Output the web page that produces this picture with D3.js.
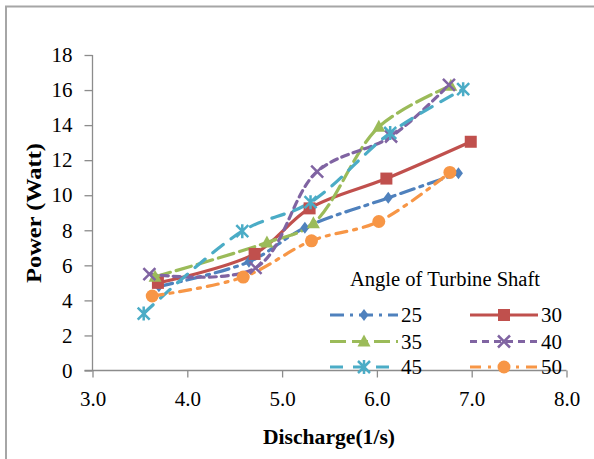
<!DOCTYPE html>
<html><head><meta charset="utf-8">
<script src="https://d3js.org/d3.v7.min.js"></script>
<style>body{margin:0;background:#fff}svg{display:block}
text{font-family:"Liberation Serif","Tinos","Noto Serif","DejaVu Serif","Times New Roman",Times,serif;}
</style>
</head><body>
<script>
const seriesNames = ["25","30","35","40","45","50"];
const discharge25 = [3.70,4.65,5.24,6.12,6.86];
const power25     = [4.80,6.20,8.15,9.85,11.25];
const discharge30 = [3.69,4.71,5.29,6.10,6.99];
const power30     = [5.00,6.65,9.25,10.95,13.05];
const discharge35 = [3.66,4.84,5.33,6.02,6.78];
const power35     = [5.35,7.30,8.40,13.90,16.25];
const discharge40 = [3.60,4.72,5.37,6.15,6.76];
const power40     = [5.50,5.85,11.35,13.35,16.30];
const discharge45 = [3.54,4.58,5.30,6.14,6.91];
const power45     = [3.25,7.95,9.60,13.55,16.05];
const discharge50 = [3.63,4.59,5.31,6.02,6.77];
const power50     = [4.25,5.33,7.40,8.50,11.30];
const xTicks = [3,4,5,6,7,8];
const yTicks = [0,2,4,6,8,10,12,14,16,18];
const legendTitle = "Angle of Turbine Shaft";

const colors = ["#4F81BD","#C0504D","#9BBB59","#8064A2","#4BACC6","#F79646"];
const dashes = ["14,6,3,6", null, "16,6", "7,5", "13,10", "11,7,3,7"];
const markers = ["diamond","square","triangle","x","asterisk","circle"];
const xs = [discharge25,discharge30,discharge35,discharge40,discharge45,discharge50];
const ys = [power25,power30,power35,power40,power45,power50];
const series = seriesNames.map((n,i)=>({name:n,color:colors[i],dash:dashes[i],marker:markers[i],
  pts:xs[i].map((x,j)=>({x:x,y:ys[i][j]}))}));

const W=594,H=459;
const svg=d3.select("body").append("svg").attr("width",W).attr("height",H);
svg.append("path").attr("d","M6,459V6.5H594").attr("fill","none").attr("stroke","#a6a6a6").attr("stroke-width",2);

const x=d3.scaleLinear().domain([3,8]).range([92.5,566.5]);
const y=d3.scaleLinear().domain([0,18]).range([370.5,55]);

const xa=svg.append("g").attr("transform","translate(0,370.5)")
  .call(d3.axisBottom(x).tickValues(xTicks).tickFormat(d3.format(".1f")).tickSize(7).tickPadding(14));
const ya=svg.append("g").attr("transform","translate(92.5,0)")
  .call(d3.axisLeft(y).tickValues(yTicks).tickSize(8).tickPadding(12));
[xa,ya].forEach(a=>{
  a.attr("font-family",null);
  a.select(".domain").attr("stroke","#8c8c8c").attr("stroke-width",1.3);
  a.selectAll(".tick line").attr("stroke","#8c8c8c").attr("stroke-width",1.3);
  a.selectAll("text").attr("font-size",21).attr("fill","#000");
});
ya.select(".domain").attr("d","M0,55V370.5");
xa.select(".domain").attr("d","M84.5,0H566.5");

svg.append("text").attr("x",329).attr("y",444).attr("text-anchor","middle")
  .attr("font-weight","bold").attr("font-size",20).attr("textLength",132).attr("lengthAdjust","spacingAndGlyphs")
  .text("Discharge(1/s)");
svg.append("text").attr("transform","translate(41,213) rotate(-90)").attr("text-anchor","middle")
  .attr("font-weight","bold").attr("font-size",21).attr("textLength",140).attr("lengthAdjust","spacingAndGlyphs")
  .text("Power (Watt)");

function drawMarker(g,type,cx,cy,color){
  const s=6;
  if(type==="diamond"){
    g.append("path").attr("d",`M${cx},${cy-6}L${cx+4.5},${cy}L${cx},${cy+6}L${cx-4.5},${cy}Z`).attr("fill",color);
  } else if(type==="square"){
    g.append("rect").attr("x",cx-6).attr("y",cy-6).attr("width",12).attr("height",12).attr("fill",color);
  } else if(type==="triangle"){
    g.append("path").attr("d",`M${cx},${cy-7}L${cx+6.5},${cy+5}L${cx-6.5},${cy+5}Z`).attr("fill",color);
  } else if(type==="x"){
    g.append("path").attr("d",`M${cx-s},${cy-s}L${cx+s},${cy+s}M${cx+s},${cy-s}L${cx-s},${cy+s}`).attr("stroke",color).attr("stroke-width",2.5);
  } else if(type==="asterisk"){
    g.append("path").attr("d",`M${cx-s},${cy-s}L${cx+s},${cy+s}M${cx+s},${cy-s}L${cx-s},${cy+s}M${cx},${cy-s-1}L${cx},${cy+s+1}`).attr("stroke",color).attr("stroke-width",2.5);
  } else if(type==="circle"){
    g.append("circle").attr("cx",cx).attr("cy",cy).attr("r",6.5).attr("fill",color);
  }
}

const line=d3.line().x(d=>x(d.x)).y(d=>y(d.y)).curve(d3.curveCatmullRom.alpha(0.5));
const plot=svg.append("g");
series.forEach(s=>{
  plot.append("path").datum(s.pts).attr("d",line).attr("fill","none")
    .attr("stroke",s.color).attr("stroke-width",3.2).attr("stroke-dasharray",s.dash)
    .attr("stroke-linecap","round");
});
series.forEach(s=>{
  const g=plot.append("g");
  s.pts.forEach(p=>drawMarker(g,s.marker,x(p.x),y(p.y),s.color));
});

const lg=svg.append("g");
lg.append("text").attr("x",445).attr("y",286).attr("text-anchor","middle")
  .attr("font-size",20).attr("textLength",190).attr("lengthAdjust","spacingAndGlyphs").text(legendTitle);
const colX=[330,470], rowY=[315,341.5,367];
series.forEach((s,i)=>{
  const cx=colX[i%2], cy=rowY[Math.floor(i/2)];
  lg.append("line").attr("x1",cx).attr("x2",cx+68).attr("y1",cy).attr("y2",cy)
    .attr("stroke",s.color).attr("stroke-width",3.2).attr("stroke-dasharray",s.dash);
  drawMarker(lg,s.marker,cx+34,cy,s.color);
  lg.append("text").attr("x",cx+71).attr("y",cy+7).attr("font-size",21).text(s.name);
});
</script>
</body></html>
